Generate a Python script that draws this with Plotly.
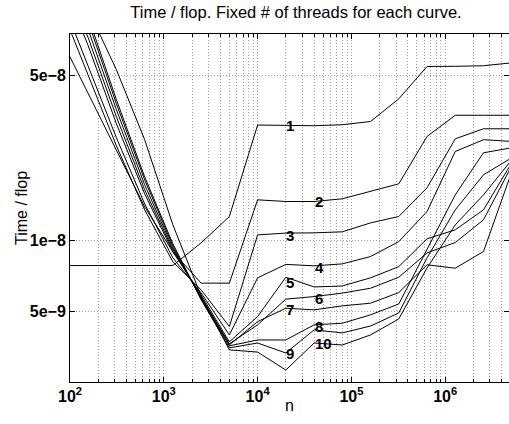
import math
import plotly.graph_objects as go

# problem size n
n = [78.125, 156.25, 312.5, 625, 1250, 2500, 5000, 10000, 20000, 40000, 80000,
     160000, 320000, 640000, 1280000, 2560000, 5120000]

# time / flop, one list per fixed number of threads
t1 = [7.80e-9, 7.80e-9, 7.81e-9, 7.81e-9, 7.81e-9, 9.74e-9, 1.26e-8, 3.08e-8, 3.07e-8, 3.06e-8, 3.09e-8, 3.19e-8, 3.98e-8, 5.46e-8, 5.47e-8, 5.50e-8, 5.66e-8]
t2 = [7.30e-8, 4.18e-8, 2.395e-8, 1.385e-8, 8.92e-9, 6.57e-9, 6.57e-9, 1.483e-8, 1.459e-8, 1.459e-8, 1.498e-8, 1.609e-8, 1.734e-8, 2.755e-8, 3.39e-8, 3.39e-8, 3.39e-8]
t3 = [9.99e-8, 5.01e-8, 2.515e-8, 1.345e-8, 8.09e-9, 6.15e-9, 4.30e-9, 1.053e-8, 1.071e-8, 1.074e-8, 1.085e-8, 1.184e-8, 1.26e-8, 1.668e-8, 2.693e-8, 2.97e-8, 2.97e-8]
t4 = [1.102e-7, 5.45e-8, 2.72e-8, 1.426e-8, 8.41e-9, 5.97e-9, 3.96e-9, 6.92e-9, 7.89e-9, 7.78e-9, 7.93e-9, 8.52e-9, 9.86e-9, 1.323e-8, 2.379e-8, 2.67e-8, 2.624e-8]
t5 = [1.340e-7, 6.69e-8, 3.12e-8, 1.573e-8, 8.92e-9, 5.855e-9, 3.70e-9, 4.74e-9, 6.96e-9, 6.33e-9, 6.39e-9, 6.92e-9, 7.72e-9, 1.013e-8, 1.106e-8, 1.345e-8, 2.13e-8]
t6 = [1.435e-7, 7.23e-8, 3.34e-8, 1.636e-8, 9.09e-9, 5.74e-9, 3.63e-9, 4.37e-9, 5.62e-9, 5.76e-9, 5.96e-9, 6.25e-9, 6.96e-9, 8.83e-9, 9.77e-9, 1.22e-8, 2.068e-8]
t7 = [1.551e-7, 7.82e-8, 3.58e-8, 1.718e-8, 9.27e-9, 5.69e-9, 3.59e-9, 4.51e-9, 5.14e-9, 5.06e-9, 5.26e-9, 5.40e-9, 5.99e-9, 7.86e-9, 7.60e-9, 8.95e-9, 1.95e-8]
t8 = [1.678e-7, 8.46e-8, 3.79e-8, 1.804e-8, 9.46e-9, 5.63e-9, 3.56e-9, 3.77e-9, 3.77e-9, 4.37e-9, 4.44e-9, 4.82e-9, 5.36e-9, 9.09e-9, 1.557e-8, 2.349e-8, 2.466e-8]
t9 = [1.797e-7, 8.884e-8, 3.945e-8, 1.857e-8, 9.65e-9, 5.58e-9, 3.49e-9, 3.66e-9, 3.32e-9, 4.16e-9, 4.04e-9, 4.32e-9, 4.91e-9, 8.41e-9, 1.345e-8, 1.894e-8, 2.237e-8]
t10 = [1.981e-7, 9.51e-8, 5.29e-8, 2.67e-8, 1.161e-8, 5.80e-9, 3.42e-9, 3.35e-9, 2.81e-9, 3.66e-9, 3.59e-9, 3.96e-9, 4.63e-9, 7.62e-9, 1.161e-8, 1.557e-8, 2.193e-8]

series = [t1, t2, t3, t4, t5, t6, t7, t8, t9, t10]
labels = ["1", "2", "3", "4", "5", "6", "7", "8", "9", "10"]
label_n = [22100, 45200, 22100, 45200, 22100, 45200, 22100, 45200, 22100, 49800]
label_v = [3.06e-8, 1.455e-8, 1.043e-8, 7.62e-9, 6.58e-9, 5.63e-9, 5.06e-9, 4.32e-9, 3.29e-9, 3.63e-9]

x_tickvals = [1e2, 1e3, 1e4, 1e5, 1e6]
x_ticktext = ["<b>10<sup>2</sup></b>", "<b>10<sup>3</sup></b>", "<b>10<sup>4</sup></b>",
              "<b>10<sup>5</sup></b>", "<b>10<sup>6</sup></b>"]
x_minor = [m * 10 ** k for k in range(2, 7) for m in range(2, 10)]
y_tickvals = [5e-9, 1e-8, 5e-8]
y_ticktext = ["<b>5e\u22129</b>", "<b>1e\u22128</b>", "<b>5e\u22128</b>"]

FONT = "Liberation Sans, Arial, Helvetica, sans-serif"
W, H = 509, 424
ML, MR, MT, MB = 70, 0, 34, 42
fig = go.Figure()
for s in series:
    fig.add_trace(go.Scatter(x=n, y=s, mode="lines",
                             line=dict(color="black", width=1), showlegend=False,
                             hoverinfo="skip"))

# annotations on log axes are positioned in log10 units
for lab, xn, yv in zip(labels, label_n, label_v):
    fig.add_annotation(x=math.log10(xn), y=math.log10(yv), xref="x", yref="y",
                       text="<b>%s</b>" % lab, showarrow=False,
                       font=dict(family=FONT, size=15, color="black"),
                       xanchor="center", yanchor="middle")

plot_h = H - MT - MB
# axis titles
fig.add_annotation(text="n", xref="paper", yref="paper", x=0.5, y=-(406 - (H - MB)) / plot_h,
                   xanchor="center", yanchor="middle", showarrow=False,
                   font=dict(family=FONT, size=16, color="black"))
fig.add_annotation(text="Time / flop", xref="paper", yref="paper", x=-(ML - 21) / (W - ML - MR),
                   y=0.5, xanchor="center", yanchor="middle", textangle=-90, showarrow=False,
                   font=dict(family=FONT, size=16, color="black"))

grid_col = "rgba(0,0,0,0.38)"
DASH = "1px,2px"
fig.update_layout(
    width=W, height=H,
    margin=dict(l=ML, r=MR, t=MT, b=MB, autoexpand=False),
    paper_bgcolor="white", plot_bgcolor="white",
    font=dict(family=FONT, color="black"),
    title=dict(text="Time / flop. Fixed # of threads for each curve.",
               x=296 / W, xanchor="center", xref="container", y=1 - 12.5 / H, yref="container",
               yanchor="middle",
               font=dict(family=FONT, size=16.5, color="black")),
    xaxis=dict(type="log", range=[2, 2 + 439 / 93.8], automargin=False,
               tickmode="array", tickvals=x_tickvals, ticktext=x_ticktext,
               tickfont=dict(family=FONT, size=16, color="black"),
               showline=True, linecolor="black", linewidth=1, mirror="allticks",
               ticks="inside", ticklen=5, tickcolor="black",
               showgrid=True, gridcolor=grid_col, griddash=DASH, gridwidth=1,
               minor=dict(tickmode="array", tickvals=x_minor, ticks="inside", ticklen=3,
                          tickcolor="black", showgrid=True, gridcolor=grid_col,
                          griddash=DASH, gridwidth=1),
               zeroline=False),
    yaxis=dict(type="log", range=[-8.6021, -7.1249], automargin=False,
               tickmode="array", tickvals=y_tickvals, ticktext=y_ticktext,
               tickfont=dict(family=FONT, size=16, color="black"),
               showline=True, linecolor="black", linewidth=1, mirror="allticks",
               ticks="inside", ticklen=5, tickcolor="black",
               showgrid=True, gridcolor=grid_col, griddash=DASH, gridwidth=1,
               zeroline=False),
)

fig.write_html("out.html", config={"displayModeBar": False},
               post_script="document.body.style.margin='0';document.body.style.overflow='hidden';")
